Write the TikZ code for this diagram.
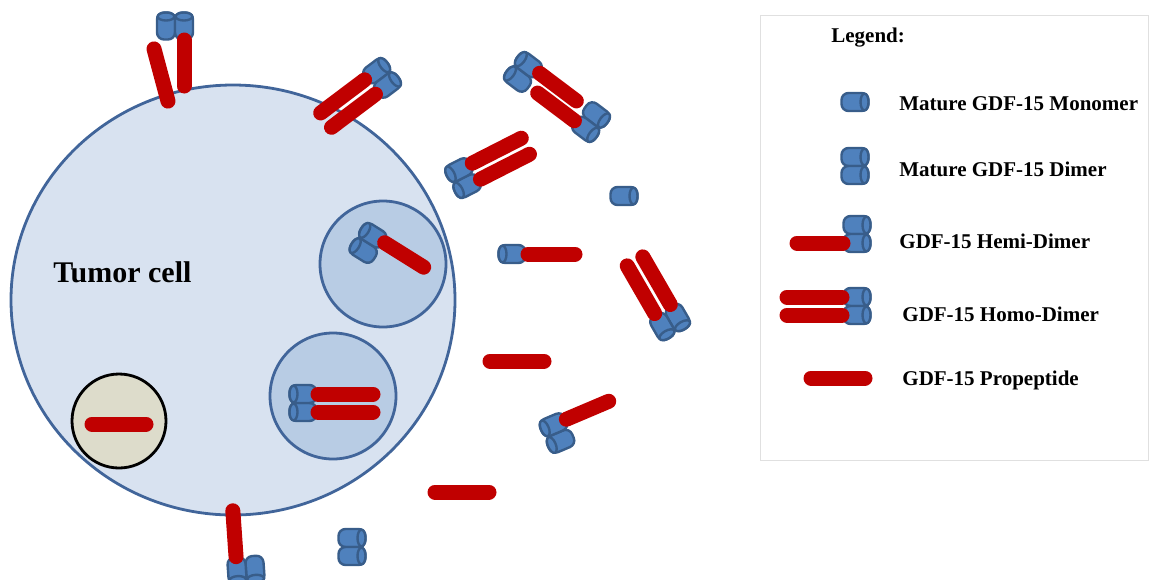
\documentclass[tikz,border=0pt]{standalone}
\usepackage{fontspec}
\setmainfont{Liberation Serif}
\definecolor{cellfill}{HTML}{D8E2F0}
\definecolor{vesfill}{HTML}{B8CCE4}
\definecolor{cellline}{HTML}{41659A}
\definecolor{cylblue}{HTML}{4F81BD}
\definecolor{cylline}{HTML}{385D8A}
\definecolor{propred}{HTML}{C00000}
\definecolor{nucfill}{HTML}{DDDCCB}

\begin{document}
\begin{tikzpicture}[x=0.5pt, y=-0.5pt,
  memb/.style={draw=cellline, line width=1.4pt},
  cyl/.style={draw=cylline, fill=cylblue, line width=1.2pt, rounded corners=3.5pt},
  cylend/.style={draw=cylline, fill=cylblue, line width=1.2pt},
  prop/.style={draw=propred, line width=7.5pt, line cap=round},
  lbl/.style={font=\bfseries\fontsize{10.5}{12}\selectfont, anchor=base west, inner sep=0pt},
  % single mature monomer, lying along x
  mono/.pic={\path[cyl] (-13.5,-9) rectangle (13.5,9);
             \path[cylend] (9.5,0) ellipse (2pt and 4.2pt);},
  dimer/.pic={\pic[transform shape] at (0,-9) {mono};
              \pic[transform shape] at (0,9) {mono};},
  propep/.pic={\draw[prop] (-27,0) -- (27,0);},
  hemi/.pic={\pic[transform shape] {dimer}; \draw[prop] (-60,9) -- (-14,9);},
  homo/.pic={\pic[transform shape] {dimer}; \draw[prop] (-70,-9) -- (-15,-9);
             \draw[prop] (-70,9) -- (-15,9);},
  promono/.pic={\pic[transform shape] {mono}; \draw[prop] (-63,0) -- (-16,0);}]
\useasboundingbox (0,0) rectangle (1149,579);

% cell, vesicles and nucleus
\path[memb, fill=cellfill] (233,300) ellipse (111pt and 107.5pt);
\path[memb, fill=vesfill] (383,264) circle (31.5pt);
\path[memb, fill=vesfill] (333,396) circle (31.5pt);
\path[draw=black, line width=1.4pt, fill=nucfill] (119,421) circle (23.5pt);
\node[font=\bfseries\fontsize{15}{18}\selectfont, anchor=base west, inner sep=0pt]
  (cellname) at (53,282) {Tumor cell};

% molecules
\pic at (119,424) {propep};
\pic[rotate=148] at (368,243) {hemi};
\pic[rotate=180] at (303,403) {homo};
\pic[rotate=90] at (175,26) {hemi};
\pic[rotate=-75] at (161,75) {propep};
\pic[rotate=37] at (382,78) {homo};
\pic[rotate=143] at (523,72) {hemi};
\pic[rotate=-37] at (591,122) {hemi};
\pic[rotate=207] at (463,178) {homo};
\pic at (624,196) {mono};
\pic[rotate=180] at (512,254) {promono};
\pic[rotate=-60] at (670,322) {homo};
\pic at (517,361) {propep};
\pic[rotate=203] at (557,433) {hemi};
\pic at (462,492) {propep};
\pic at (352,547) {dimer};
\pic[rotate=-86] at (246,570) {hemi};

% legend
\draw[black!12, line width=0.5pt] (760,15) rectangle (1148,460);
\node[lbl] (leg) at (831,42) {Legend:};
\pic at (855,102) {mono};
\node[lbl] (l1) at (899,110) {Mature GDF-15 Monomer};
\pic at (855,166) {dimer};
\node[lbl] (l2) at (899,176) {Mature GDF-15 Dimer};
\pic at (857,234) {hemi};
\node[lbl] (l3) at (899,248) {GDF-15 Hemi-Dimer};
\pic at (857,306) {homo};
\node[lbl] (l4) at (902,321) {GDF-15 Homo-Dimer};
\pic at (838,378) {propep};
\node[lbl] (l5) at (902,385) {GDF-15 Propeptide};
\end{tikzpicture}
\end{document}
